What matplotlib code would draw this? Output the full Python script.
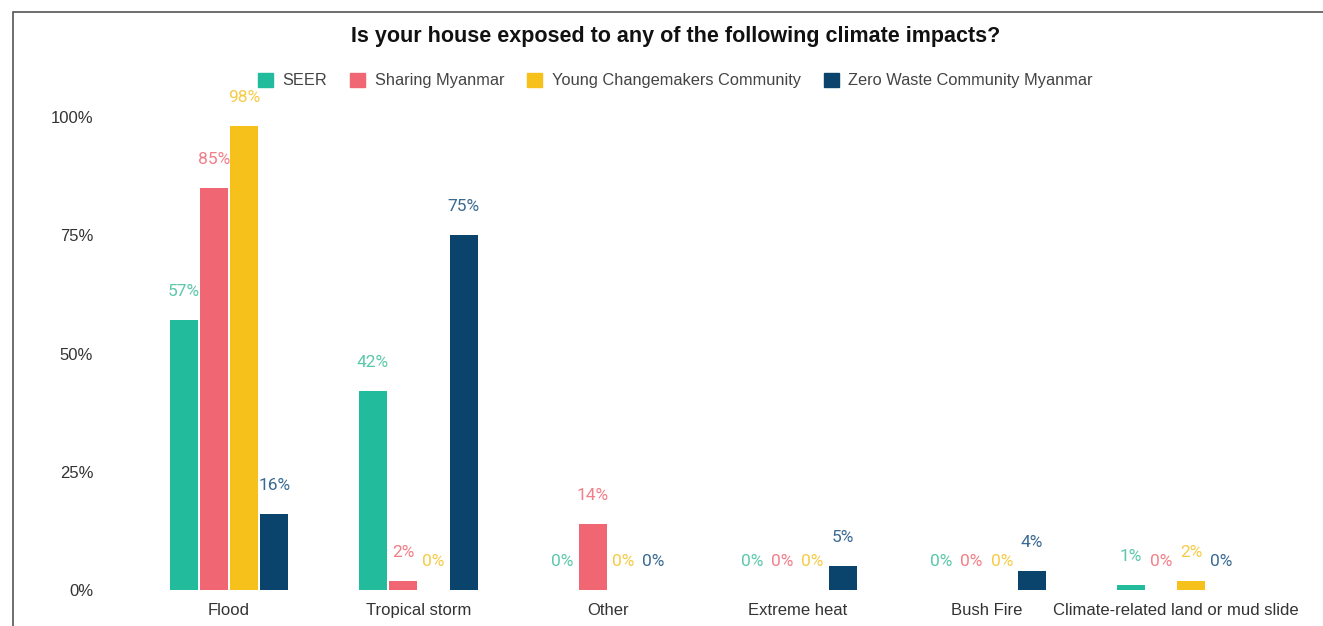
import matplotlib
matplotlib.use("Agg")
import matplotlib.pyplot as plt
import matplotlib.patches as mpatches
import numpy as np

categories = ["Flood", "Tropical storm", "Other", "Extreme heat", "Bush Fire",
              "Climate-related land or mud slide"]
series_names = ["SEER", "Sharing Myanmar", "Young Changemakers Community",
                "Zero Waste Community Myanmar"]
seer = [57, 42, 0, 0, 0, 1]
sharing = [85, 2, 14, 0, 0, 0]
young = [98, 0, 0, 0, 0, 2]
zero_waste = [16, 75, 0, 5, 4, 0]
y_ticks = [0, 25, 50, 75, 100]

COLORS = ["#22BB9C", "#F06672", "#F5C11A", "#0A446D"]
LABEL_COLORS = ["#5CC8AA", "#F27F88", "#F6CB45", "#3A6A92"]

plt.rcParams["font.family"] = ["Liberation Sans", "DejaVu Sans"]

fig = plt.figure(figsize=(13.23, 6.26), dpi=100)
fig.patch.set_facecolor("white")

# frame around the chart (cut off at right/bottom in the original)
fig.patches.append(mpatches.Rectangle((13 / 1323, -0.1), 1.2, 1 - 12 / 626 + 0.1,
                                      transform=fig.transFigure, fill=False,
                                      edgecolor="#555555", linewidth=1.2))

ax = fig.add_axes([0.0872, 0.0575, 0.8876, 0.7556])
x = np.arange(len(categories))
step = 0.16
width = 0.148
all_series = [seer, sharing, young, zero_waste]
for i, vals in enumerate(all_series):
    pos = x + (i - 1.5) * step
    bars = ax.bar(pos, vals, width=width, color=COLORS[i], label=series_names[i])
    for b, v in zip(bars, vals):
        ax.annotate(f"{v}%", (b.get_x() + b.get_width() / 2, v),
                    xytext=(0, 20.5), textcoords="offset points",
                    ha="center", va="center", color=LABEL_COLORS[i],
                    fontsize=12.5, family=["Roboto", "DejaVu Sans"])

ax.set_xlim(-0.6, 5.6)
ax.set_ylim(0, 100)
ax.set_yticks(y_ticks)
ax.set_yticklabels([f"{t}%" for t in y_ticks])
ax.set_xticks(x)
ax.set_xticklabels(categories)
ax.tick_params(axis="both", length=0, labelsize=12, colors="#333333")
ax.tick_params(axis="y", pad=16)
ax.tick_params(axis="x", pad=9)
for spine in ax.spines.values():
    spine.set_visible(False)

fig.text(0.511, 0.942, "Is your house exposed to any of the following climate impacts?",
         ha="center", va="center", fontsize=15.5, fontweight="bold", color="#111111")

handles = [mpatches.Patch(color=COLORS[i], label=series_names[i]) for i in range(4)]
fig.legend(handles=handles, loc="center", bbox_to_anchor=(0.5106, 0.871), ncol=4,
           frameon=False, fontsize=11.8, handlelength=0.9, handleheight=0.9,
           handletextpad=0.6, columnspacing=1.4, labelcolor="#444444")

fig.savefig("out.png", dpi=100, facecolor="white")
